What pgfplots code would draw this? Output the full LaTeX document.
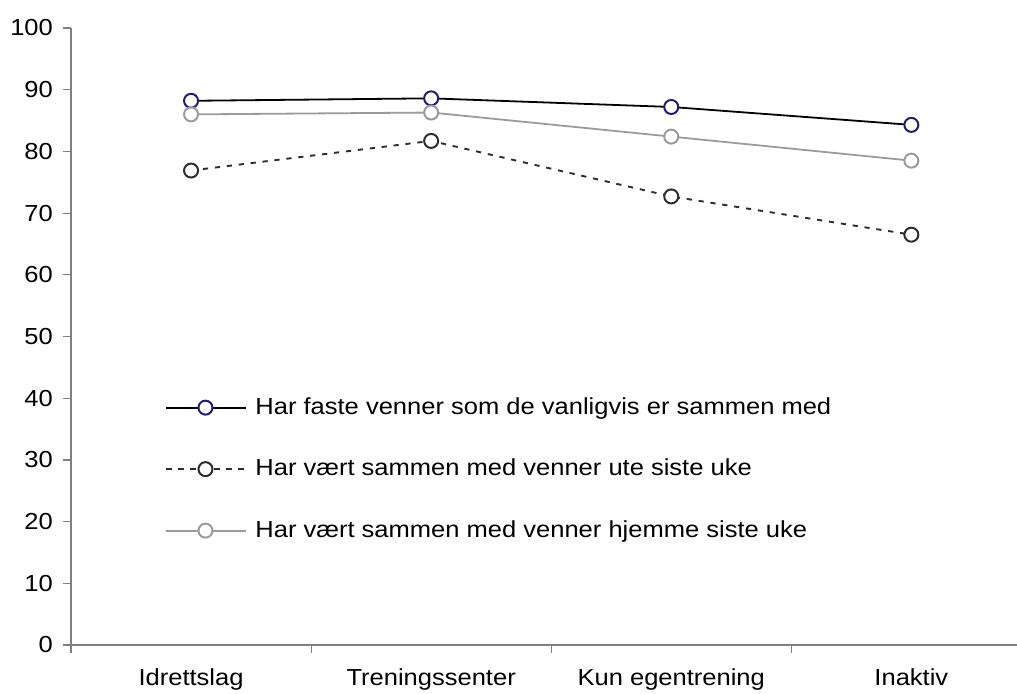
\documentclass[border=0pt]{standalone}
\usepackage{fontspec}
\setmainfont[FakeStretch=1.1]{Liberation Sans}
\usepackage{pgfplots}
\pgfplotsset{compat=1.18}
\definecolor{navym}{RGB}{30,30,120}
\definecolor{dgray}{RGB}{45,45,45}
\definecolor{lgray}{RGB}{155,155,155}
\definecolor{axgray}{RGB}{128,128,128}
\begin{document}
\fontsize{11.6pt}{14pt}\selectfont
\begin{tikzpicture}
\useasboundingbox (0,0) rectangle (508.5pt,346.5pt);
\begin{axis}[
 at={(35.5pt,24pt)}, anchor=south west,
 scale only axis, width=473pt, height=308.5pt,
 xmin=-0.5, xmax=3.44, ymin=0, ymax=100,
 axis x line*=bottom, axis y line*=left,
 axis line style={axgray, line width=0.6pt, -},
 ytick={0,10,...,100},
 xtick={0,1,2,3},
 xticklabels={Idrettslag,Treningssenter,Kun egentrening,Inaktiv},
 minor xtick={-0.5,0.5,1.5,2.5},
 major x tick style={draw=none},
 tick align=outside,
 tick style={axgray, line width=0.6pt},
 major tick length=4pt, minor tick length=4pt,
 /pgf/number format/assume math mode=true,
 yticklabel style={xshift=-1pt},
 xticklabel style={yshift=-4pt},
 clip=false,
 legend image code/.code={\draw[mark repeat=2,mark phase=2,#1] plot coordinates {(0pt,0pt) (19.5pt,0pt) (40pt,0pt)};},
 legend cell align=left,
 legend style={draw=none, fill=none, at={(axis cs:-0.108,40.4)}, anchor=north west,
   inner sep=0pt, row sep=19.25pt,
   nodes={inner sep=0pt, text height=9pt, text depth=2.5pt},
   /tikz/every odd column/.append style={column sep=4pt}},
 every axis plot/.append style={mark=*, mark size=3.5pt},
]
\addplot[black, line width=0.9pt, mark options={draw=navym, fill=white, line width=1pt, solid}]
 coordinates {(0,88.2) (1,88.6) (2,87.2) (3,84.3)};
\addlegendentry{Har faste venner som de vanligvis er sammen med}
\addplot[dgray, line width=0.95pt, dash pattern=on 2.6pt off 3.4pt, mark options={draw=dgray, fill=white, line width=1pt, solid}]
 coordinates {(0,76.9) (1,81.7) (2,72.7) (3,66.5)};
\addlegendentry{Har vært sammen med venner ute siste uke}
\addplot[lgray, line width=0.9pt, mark options={draw=lgray, fill=white, line width=1pt, solid}]
 coordinates {(0,86.0) (1,86.3) (2,82.4) (3,78.5)};
\addlegendentry{Har vært sammen med venner hjemme siste uke}
\end{axis}
\end{tikzpicture}
\end{document}
